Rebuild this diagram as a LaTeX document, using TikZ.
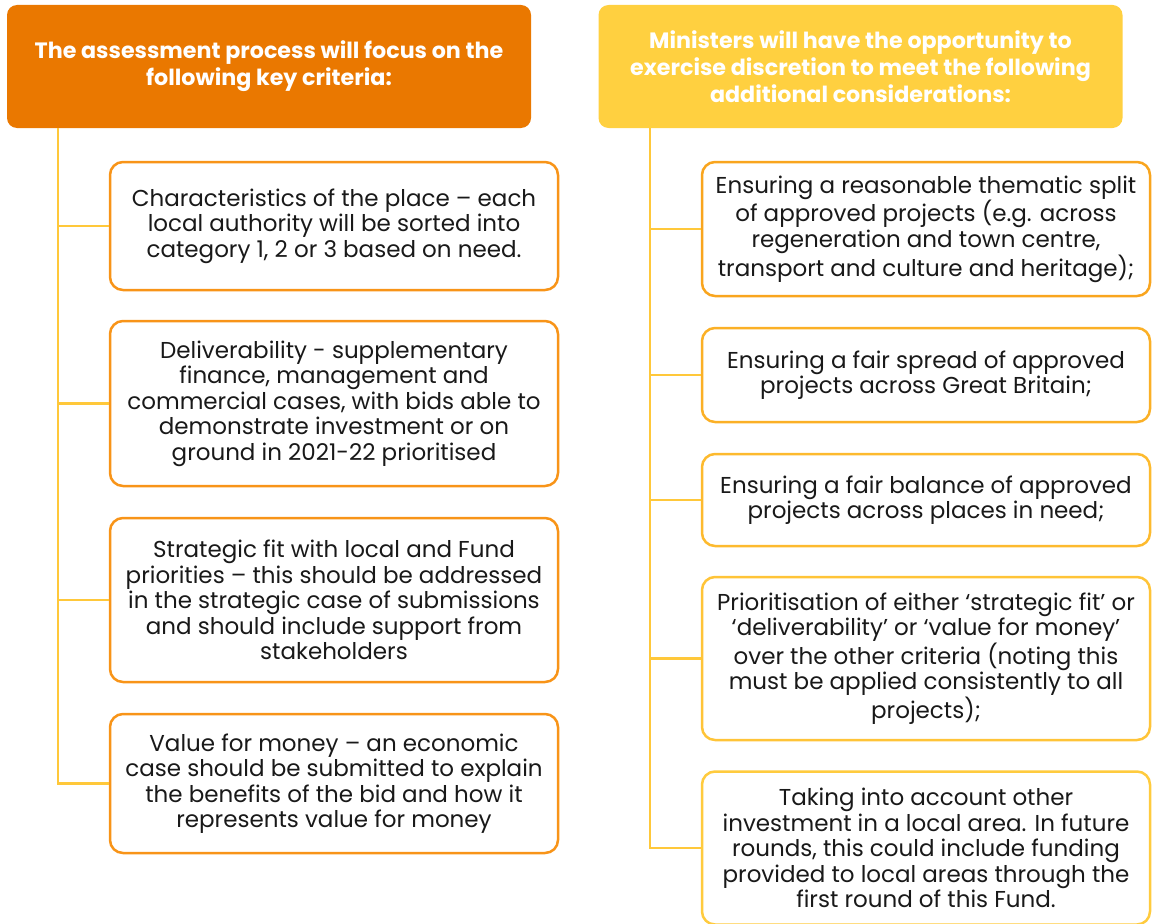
\documentclass[tikz,border=0pt]{standalone}
\usepackage{fontspec}
\setmainfont{Poppins}
\definecolor{hdrorange}{RGB}{234,120,0}
\definecolor{hdryellow}{RGB}{255,208,64}
\definecolor{bordorange}{RGB}{248,148,24}
\definecolor{connyellow}{RGB}{255,200,58}
\definecolor{rA}{RGB}{249,165,30}
\definecolor{rB}{RGB}{251,176,38}
\definecolor{rC}{RGB}{253,186,46}
\definecolor{rD}{RGB}{255,196,56}
\definecolor{rE}{RGB}{255,203,62}
\tikzset{
  hdr/.style={rounded corners=10pt, minimum width=524pt, minimum height=123pt, align=center, text=white,
     font=\bfseries\fontsize{22.2}{27}\selectfont, inner sep=0pt},
  itembox/.style={draw, line width=2.5pt, rounded corners=13pt, fill=white, minimum width=448pt, align=center,
     font=\fontsize{23}{25.5}\selectfont, inner sep=0pt, text=black!90},
  conn/.style={draw=connyellow, line width=2.8pt}
}
\begin{document}
\begin{tikzpicture}[x=1pt,y=-1pt]
\useasboundingbox (0,0) rectangle (1155,923);
% headers
\node[hdr, fill=hdrorange] (hl) at (269,66.5) {The assessment process will focus on the\\following key criteria:};
\node[hdr, fill=hdryellow] (hr) at (860.5,66.5) {Ministers will have the opportunity to\\exercise discretion to meet the following\\additional considerations:};
\coordinate (lt) at (58,128);
\coordinate (rt) at (650,128);
% left boxes
\node[itembox, draw=bordorange, minimum height=128pt] (l1) at (334,226) {Characteristics of the place – each\\local authority will be sorted into\\category 1, 2 or 3 based on need.};
\node[itembox, draw=bordorange, minimum height=165pt] (l2) at (334,403.5) {Deliverability - supplementary\\finance, management and\\commercial cases, with bids able to\\demonstrate investment or on\\ground in 2021-22 prioritised};
\node[itembox, draw=bordorange, minimum height=164pt] (l3) at (334,600) {Strategic fit with local and Fund\\priorities – this should be addressed\\in the strategic case of submissions\\and should include support from\\stakeholders};
\node[itembox, draw=bordorange, minimum height=139pt] (l4) at (334,783.5) {Value for money – an economic\\case should be submitted to explain\\the benefits of the bid and how it\\represents value for money};
% right boxes
\node[itembox, draw=rA, minimum height=134pt] (r1) at (926,229) {Ensuring a reasonable thematic split\\of approved projects (e.g. across\\regeneration and town centre,\\transport and culture and heritage);};
\node[itembox, draw=rB, minimum height=94pt] (r2) at (926,375) {Ensuring a fair spread of approved\\projects across Great Britain;};
\node[itembox, draw=rC, minimum height=92pt] (r3) at (926,500) {Ensuring a fair balance of approved\\projects across places in need;};
\node[itembox, draw=rD, minimum height=163pt] (r4) at (926,658.5) {Prioritisation of either ‘strategic fit’ or\\‘deliverability’ or ‘value for money’\\over the other criteria (noting this\\must be applied consistently to all\\projects);};
\node[itembox, draw=rE, minimum height=153pt] (r5) at (926,848) {Taking into account other\\investment in a local area. In future\\rounds, this could include funding\\provided to local areas through the\\first round of this Fund.};
% connector lines
\draw[conn] (lt) |- (l4.west);
\draw[conn] (lt |- l1.west) -- (l1.west);
\draw[conn] (lt |- l2.west) -- (l2.west);
\draw[conn] (lt |- l3.west) -- (l3.west);
\draw[conn] (rt) |- (r5.west);
\draw[conn] (rt |- r1.west) -- (r1.west);
\draw[conn] (rt |- r2.west) -- (r2.west);
\draw[conn] (rt |- r3.west) -- (r3.west);
\draw[conn] (rt |- r4.west) -- (r4.west);
\end{tikzpicture}
\end{document}
